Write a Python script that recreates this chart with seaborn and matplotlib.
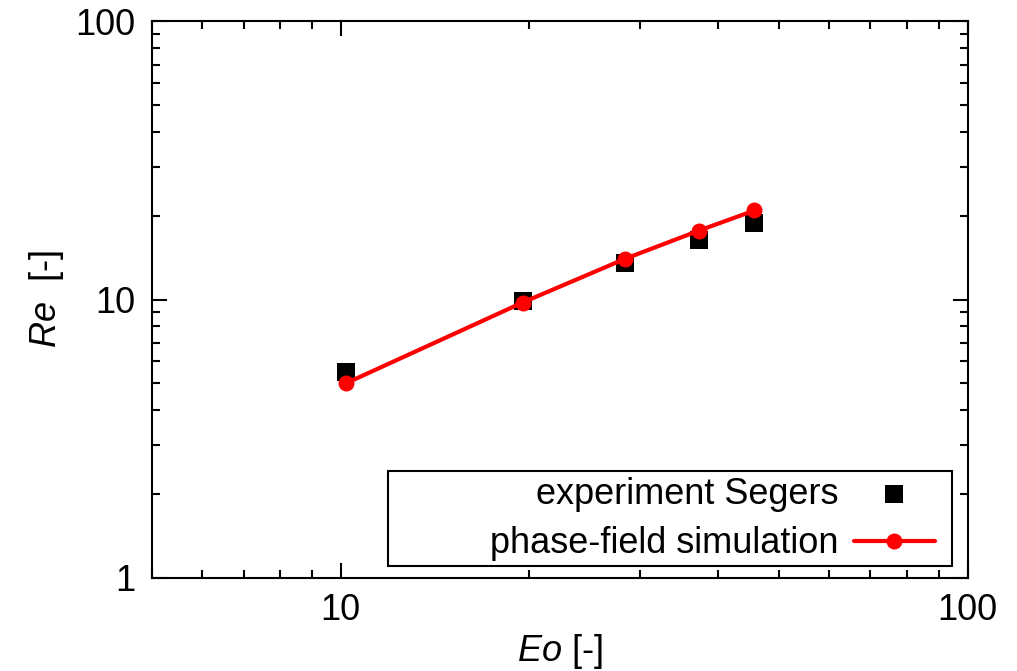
import numpy as np
import pandas as pd
import matplotlib
matplotlib.use("Agg")
import matplotlib.pyplot as plt
import seaborn as sns
from matplotlib.patches import Rectangle
from matplotlib.ticker import LogLocator, FixedLocator, FixedFormatter, NullFormatter

# ---- data ----
eo_exp = [10.2, 19.5, 28.4, 37.3, 45.7]
re_exp = [5.5, 9.9, 13.5, 16.4, 18.9]
eo_sim = [10.2, 19.5, 28.4, 37.3, 45.7]
re_sim = [5.0, 9.75, 14.0, 17.7, 20.9]
exp_label = "experiment Segers"
sim_label = "phase-field simulation"
x_ticks = [10, 100]
x_ticklabels = ["10", "100"]
y_ticks = [1, 10, 100]
y_ticklabels = ["1", "10", "100"]

sns.set_style("ticks")
plt.rcParams["font.family"] = ["Liberation Sans", "DejaVu Sans"]
plt.rcParams["mathtext.fontset"] = "custom"
plt.rcParams["mathtext.it"] = "Liberation Sans:italic"
plt.rcParams["mathtext.rm"] = "Liberation Sans"
plt.rcParams["text.color"] = "black"
plt.rcParams["axes.labelcolor"] = "black"

fs = 26
fig = plt.figure(figsize=(10.17, 6.71), dpi=100)
ax = fig.add_axes([0.1495, 0.1393, 0.9514 - 0.1495, 0.968 - 0.1393])

df_exp = pd.DataFrame({"Eo": eo_exp, "Re": re_exp})
df_sim = pd.DataFrame({"Eo": eo_sim, "Re": re_sim})

sns.lineplot(data=df_sim, x="Eo", y="Re", ax=ax, color="#ff0000", linewidth=3,
             marker="o", markersize=11.5, markeredgewidth=0, label=sim_label,
             zorder=3, sort=False)
sns.scatterplot(data=df_exp, x="Eo", y="Re", ax=ax, color="black", marker="s",
                s=13**2, linewidth=0, label=exp_label, zorder=2)

ax.set_xscale("log")
ax.set_yscale("log")
ax.set_xlim(5, 100)
ax.set_ylim(1, 100)

ax.xaxis.set_major_locator(FixedLocator(x_ticks))
ax.xaxis.set_major_formatter(FixedFormatter(x_ticklabels))
ax.yaxis.set_major_locator(FixedLocator(y_ticks))
ax.yaxis.set_major_formatter(FixedFormatter(y_ticklabels))
ax.xaxis.set_minor_locator(LogLocator(base=10, subs=np.arange(2, 10)))
ax.yaxis.set_minor_locator(LogLocator(base=10, subs=np.arange(2, 10)))
ax.xaxis.set_minor_formatter(NullFormatter())
ax.yaxis.set_minor_formatter(NullFormatter())

ax.tick_params(which="both", direction="in", top=True, right=True,
               labelsize=fs, colors="black", labelcolor="black", width=1.5)
ax.tick_params(which="major", length=11)
ax.tick_params(which="minor", length=6)
ax.tick_params(axis="x", which="major", pad=11)
ax.tick_params(axis="y", which="major", pad=12)

for s in ax.spines.values():
    s.set_visible(True)
    s.set_linewidth(1.5)
    s.set_color("black")

ax.set_xlabel(r"$\mathit{Eo}$ [-]", fontsize=fs, labelpad=3)
ax.set_ylabel(r"$\mathit{Re}$  [-]", fontsize=fs, labelpad=7)

handles, labels = ax.get_legend_handles_labels()
order = [labels.index(exp_label), labels.index(sim_label)]
leg = ax.legend([handles[i] for i in order], [labels[i] for i in order],
                loc="center right", bbox_to_anchor=(0.960, 0.1052),
                fontsize=fs, markerfirst=False, frameon=False,
                handlelength=2.25, handletextpad=0.42, labelspacing=0.4,
                borderpad=0.0, borderaxespad=0.0)

# legend frame (gnuplot-style key box)
ax.add_patch(Rectangle((0.2894, 0.0207), 0.981 - 0.2894, 0.1916 - 0.0207,
                       transform=ax.transAxes, fill=False, edgecolor="black",
                       linewidth=1.5, zorder=5))

fig.savefig("out.png", dpi=100)
